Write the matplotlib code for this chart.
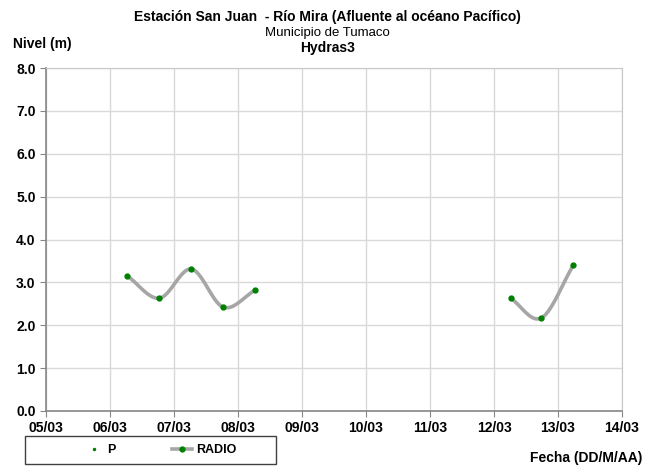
import matplotlib
matplotlib.use("Agg")
import matplotlib.pyplot as plt
import matplotlib.dates as mdates
from matplotlib.patches import Rectangle
import numpy as np
from datetime import datetime

plt.rcParams['font.family'] = ['Liberation Sans', 'DejaVu Sans']

# Data
radio_segments = [
    (["2023-03-06 06:30", "2023-03-06 18:30", "2023-03-07 06:30", "2023-03-07 18:30", "2023-03-08 06:30"],
     [3.15, 2.63, 3.31, 2.42, 2.82]),
    (["2023-03-12 06:15", "2023-03-12 17:45", "2023-03-13 05:45"],
     [2.63, 2.17, 3.40]),
]
p_times = []
p_values = []
x_tick_labels = ["05/03", "06/03", "07/03", "08/03", "09/03", "10/03", "11/03", "12/03", "13/03", "14/03"]
y_ticks = [0, 1, 2, 3, 4, 5, 6, 7, 8]

def catmull(x, y, n=30):
    x = np.asarray(x, float); y = np.asarray(y, float)
    px = np.concatenate([[2*x[0]-x[1]], x, [2*x[-1]-x[-2]]])
    py = np.concatenate([[2*y[0]-y[1]], y, [2*y[-1]-y[-2]]])
    ox, oy = [], []
    for i in range(1, len(px)-2):
        t = np.linspace(0, 1, n)
        for P, out in ((px, ox), (py, oy)):
            p0, p1, p2, p3 = P[i-1], P[i], P[i+1], P[i+2]
            out.extend(0.5*((2*p1) + (-p0+p2)*t + (2*p0-5*p1+4*p2-p3)*t**2 + (-p0+3*p1-3*p2+p3)*t**3))
    return np.array(ox), np.array(oy)

fig = plt.figure(figsize=(6.55, 4.68), dpi=100)
ax = fig.add_axes([46/655, 1-411/468, (622-46)/655, (411-68)/468])

green = '#008000'
line_color = '#a6a6a6'
for i, (ts, vals) in enumerate(radio_segments):
    xs = mdates.date2num([datetime.strptime(t, "%Y-%m-%d %H:%M") for t in ts])
    sx, sy = catmull(xs, vals)
    ax.plot(sx, sy, color=line_color, lw=2.6, solid_capstyle='round', zorder=3,
            label='_nolegend_')
    ax.plot(xs, vals, 'o', color=green, ms=3.5, zorder=4, label='_nolegend_')

ax.plot(mdates.date2num(p_times) if p_times else [], p_values, 'o', color=green, ms=1.5, label='P')
ax.plot([], [], color=line_color, lw=2.6, marker='o', mfc=green, mec=green, ms=3.5, label='RADIO')

x0 = mdates.date2num(datetime(2023, 3, 5))
ticks = [x0 + i for i in range(len(x_tick_labels))]
ax.set_xlim(ticks[0], ticks[-1])
ax.set_ylim(0, 8)
ax.set_xticks(ticks)
ax.set_xticklabels(x_tick_labels)
ax.set_yticks(y_ticks)
ax.set_yticklabels([f"{v:.1f}" for v in y_ticks])
ax.grid(True, color='#d9d9d9', lw=1)
ax.set_axisbelow(True)
for s in ['top', 'right']:
    ax.spines[s].set_color('#c8c8c8')
for s in ['left', 'bottom']:
    ax.spines[s].set_color('#868686')
    ax.spines[s].set_linewidth(1.2)
ax.tick_params(axis='both', direction='out', length=4, color='#868686', labelsize=10)
for lab in ax.get_xticklabels() + ax.get_yticklabels():
    lab.set_fontweight('bold')

fig.text(0.5, 1-17/468, "Estación San Juan  - Río Mira (Afluente al océano Pacífico)",
         ha='center', va='center', fontsize=10, fontweight='bold')
fig.text(0.5, 1-33/468, "Municipio de Tumaco", ha='center', va='center', fontsize=9.5)
fig.text(0.5, 1-48/468, "Hydras3", ha='center', va='center', fontsize=10, fontweight='bold')
fig.text(13/655, 1-44/468, "Nivel (m)", ha='left', va='center', fontsize=10, fontweight='bold')
fig.text(642/655, 1-458/468, "Fecha (DD/M/AA)", ha='right', va='center', fontsize=10, fontweight='bold')

# legend frame
fig.patches.append(Rectangle((25/655, 1-464/468), (276-25)/655, (464-436)/468,
                             transform=fig.transFigure, fill=False, edgecolor='#404040', lw=1))
leg = fig.legend(loc='center', bbox_to_anchor=(160/655, 1-450/468), ncol=2, frameon=False,
                 fontsize=9, handlelength=1.6, handletextpad=0.3, columnspacing=4.5,
                 borderpad=0, borderaxespad=0)
for t in leg.get_texts():
    t.set_fontweight('bold')

fig.savefig("out.png", dpi=100)
